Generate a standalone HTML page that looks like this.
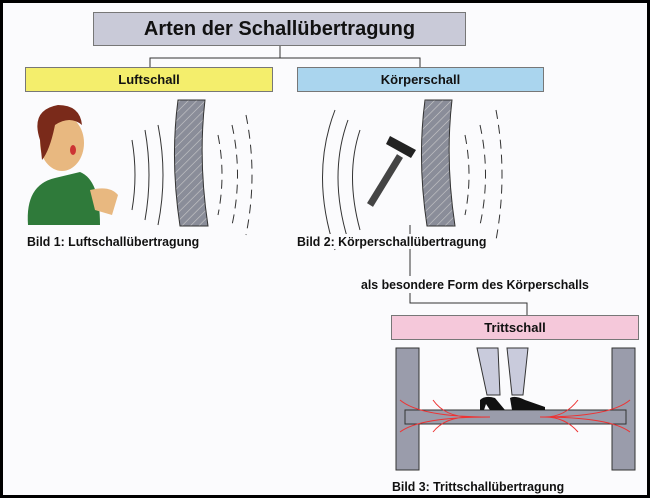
<!DOCTYPE html>
<html><head><meta charset="utf-8"><style>
body{margin:0;background:#000}
#c{position:relative;width:644px;height:492px;margin:3px;background:#fbfbfd;overflow:hidden;font-family:"Liberation Sans",sans-serif}
.b{position:absolute;border:1px solid #777;display:flex;align-items:center;justify-content:center;font-weight:bold;font-size:13px;color:#111}
.t{position:absolute;font-weight:bold;font-size:13px;color:#111;transform:scaleX(.95);transform-origin:left;background:#fbfbfd}
</style></head><body><div id="c">
<svg width="644" height="492" style="position:absolute;left:0;top:0" viewBox="3 3 644 492">
<defs><pattern id="h" width="6" height="6" patternUnits="userSpaceOnUse" patternTransform="rotate(45)"><rect width="6" height="6" fill="#8a8d99"/><line x1="0" y1="0" x2="0" y2="6" stroke="#ccc" stroke-width="1.2"/></pattern></defs>
<g stroke="#333" fill="none" stroke-width="1">
<path d="M280 45V58H150V67M280 58H420V67"/>
<path d="M410 225V276M410 293V303H527V315"/>
</g>
<path d="M178 100H205Q198 160 208 226H180Q170 160 178 100Z" fill="url(#h)" stroke="#333"/>
<path d="M425 100H452Q445 160 455 226H427Q417 160 425 100Z" fill="url(#h)" stroke="#333"/>
<g stroke="#333" fill="none" stroke-width="1">
<path d="M132 140Q138 175 132 210"/><path d="M145 130Q153 175 145 220"/><path d="M158 125Q168 175 158 225"/>
<g stroke-dasharray="9 6"><path d="M218 135Q226 175 218 215"/><path d="M232 125Q243 175 232 225"/><path d="M246 115Q258 175 246 235"/></g>
<path d="M335 110Q310 175 335 250"/><path d="M348 120Q328 175 348 240"/><path d="M360 130Q345 175 360 230"/>
<g stroke-dasharray="9 6"><path d="M465 135Q473 175 465 215"/><path d="M480 125Q491 175 480 225"/><path d="M496 110Q508 175 496 240"/></g>
</g>
<line x1="370" y1="205" x2="400" y2="156" stroke="#444" stroke-width="7"/>
<path d="M390 136L416 150L411 158L386 144Z" fill="#222"/>
<path d="M28 225Q25 185 55 178L80 172Q100 180 100 225Z" fill="#2f7a3a"/>
<path d="M90 190Q110 185 118 195L112 215L95 210Z" fill="#e8b880"/>
<ellipse cx="62" cy="143" rx="22" ry="28" fill="#e8b880"/>
<path d="M40 140Q30 110 58 105Q80 105 82 125Q70 115 55 125Q50 150 42 160Z" fill="#7a2a1a"/>
<ellipse cx="73" cy="150" rx="3" ry="5" fill="#c33"/>
<rect x="396" y="348" width="23" height="122" fill="#9a9cab" stroke="#333"/>
<rect x="612" y="348" width="23" height="122" fill="#9a9cab" stroke="#333"/>
<rect x="405" y="410" width="221" height="14" fill="#9a9cab" stroke="#333"/>
<path d="M477 348L487 395H500L498 348ZM507 348L512 395H523L528 348Z" fill="#c9cbdc" stroke="#333"/>
<path d="M480 400Q485 395 495 398L505 410H490L486 404L484 410H480ZM510 398Q515 395 525 400L545 407V410H512Z" fill="#111"/>
<g stroke="#e33" fill="none" stroke-width="1"><path d="M400 400Q420 417 490 417M400 432Q420 417 490 417M433 400Q445 417 470 417M433 432Q445 417 470 417M630 400Q610 417 540 417M630 432Q610 417 540 417M578 400Q565 417 545 417M578 432Q565 417 545 417"/></g>
</svg>
<div class="b" style="left:90px;top:9px;width:371px;height:32px;background:#c9cad8;font-size:20px">Arten der Schallübertragung</div>
<div class="b" style="left:22px;top:64px;width:246px;height:23px;background:#f4ee6c">Luftschall</div>
<div class="b" style="left:294px;top:64px;width:245px;height:23px;background:#aad5ee">Körperschall</div>
<div class="b" style="left:388px;top:312px;width:246px;height:23px;background:#f5c8da">Trittschall</div>
<div class="t" style="left:24px;top:231px">Bild 1: Luftschallübertragung</div>
<div class="t" style="left:294px;top:231px">Bild 2: Körperschallübertragung</div>
<div class="t" style="left:358px;top:274px">als besondere Form des Körperschalls</div>
<div class="t" style="left:389px;top:476px">Bild 3: Trittschallübertragung</div>
</div></body></html>
